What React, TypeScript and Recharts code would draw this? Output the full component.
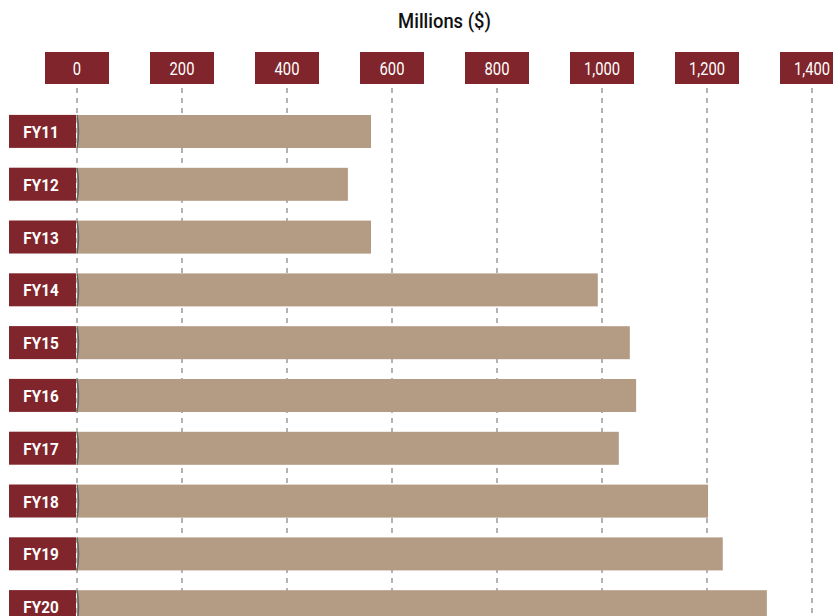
import React from 'react';
import { BarChart, Bar, XAxis, YAxis, CartesianGrid } from 'recharts';

const categories = ['FY11', 'FY12', 'FY13', 'FY14', 'FY15', 'FY16', 'FY17', 'FY18', 'FY19', 'FY20'];
const values = [560, 516, 560, 992, 1053, 1065, 1032, 1202, 1230, 1314];
const xTicks = [0, 200, 400, 600, 800, 1000, 1200, 1400];
const title = 'Millions ($)';

const data = categories.map((c, i) => ({ name: c, value: values[i] }));

const RED = '#7f252b';
const TAN = '#b39b84';
const FONT = "Roboto, 'DejaVu Sans Condensed', sans-serif";

const fmt = (v: number) => v.toLocaleString('en-US');

const XTick = (props: any) => {
  const { x, y, payload } = props;
  return (
    <g>
      <rect x={x - 32} y={y - 36} width={64} height={32} fill={RED} />
      <text
        transform={`translate(${x},${y - 13}) scale(0.82,1)`}
        textAnchor="middle"
        fill="#fff"
        fontSize={18}
        fontFamily={FONT}
      >
        {fmt(payload.value)}
      </text>
    </g>
  );
};

const YTick = (props: any) => {
  const { x, y, payload } = props;
  return (
    <g>
      <rect x={x - 68} y={y - 16.5} width={67} height={33} fill={RED} />
      <text
        transform={`translate(${x - 36},${y + 6.5}) scale(0.9,1)`}
        textAnchor="middle"
        fill="#fff"
        fontSize={17}
        fontWeight={700}
        fontFamily={FONT}
      >
        {payload.value}
      </text>
    </g>
  );
};

const BarShape = (props: any) => {
  const { x, y, width, height } = props;
  return (
    <g>
      <rect x={x} y={y} width={width} height={height} fill={TAN} />
      <path d={`M ${x} ${y} Q ${x + 3} ${y + height / 2} ${x} ${y + height}`} stroke="#555" strokeWidth={1.5} fill="none" opacity={0.8} />
    </g>
  );
};

const TitleLabel = (props: any) => {
  const vb = props.viewBox || {};
  const cx = vb.x + vb.width / 2;
  return (
    <text
      transform={`translate(${cx},28) scale(0.92,1)`}
      textAnchor="middle"
      fill="#111"
      fontSize={20}
      fontWeight={500}
      fontFamily={FONT}
    >
      {title}
    </text>
  );
};

export default function App() {
  return (
    <div style={{ position: 'absolute', left: 0, top: 0, width: 833, height: 640, background: '#fff' }}>
      <BarChart
        width={833}
        height={640}
        data={data}
        layout="vertical"
        margin={{ top: 0, right: 21, bottom: 7, left: 0 }}
        barSize={33}
      >
        <CartesianGrid horizontal={false} vertical={true} stroke="#9a9a9a" strokeWidth={1.5} strokeDasharray="5 5" />
        <XAxis
          type="number"
          orientation="top"
          domain={[0, 1400]}
          ticks={xTicks}
          height={88}
          axisLine={false}
          tickLine={false}
          tickSize={0}
          tickMargin={0}
          tick={<XTick />}
          interval={0}
          label={<TitleLabel />}
        />
        <YAxis
          type="category"
          dataKey="name"
          width={77}
          axisLine={false}
          tickLine={false}
          tickSize={0}
          tickMargin={0}
          tick={<YTick />}
          interval={0}
          padding={{ top: 17, bottom: 0 }}
        />
        <Bar dataKey="value" fill={TAN} isAnimationActive={false} shape={<BarShape />} />
      </BarChart>
    </div>
  );
}
